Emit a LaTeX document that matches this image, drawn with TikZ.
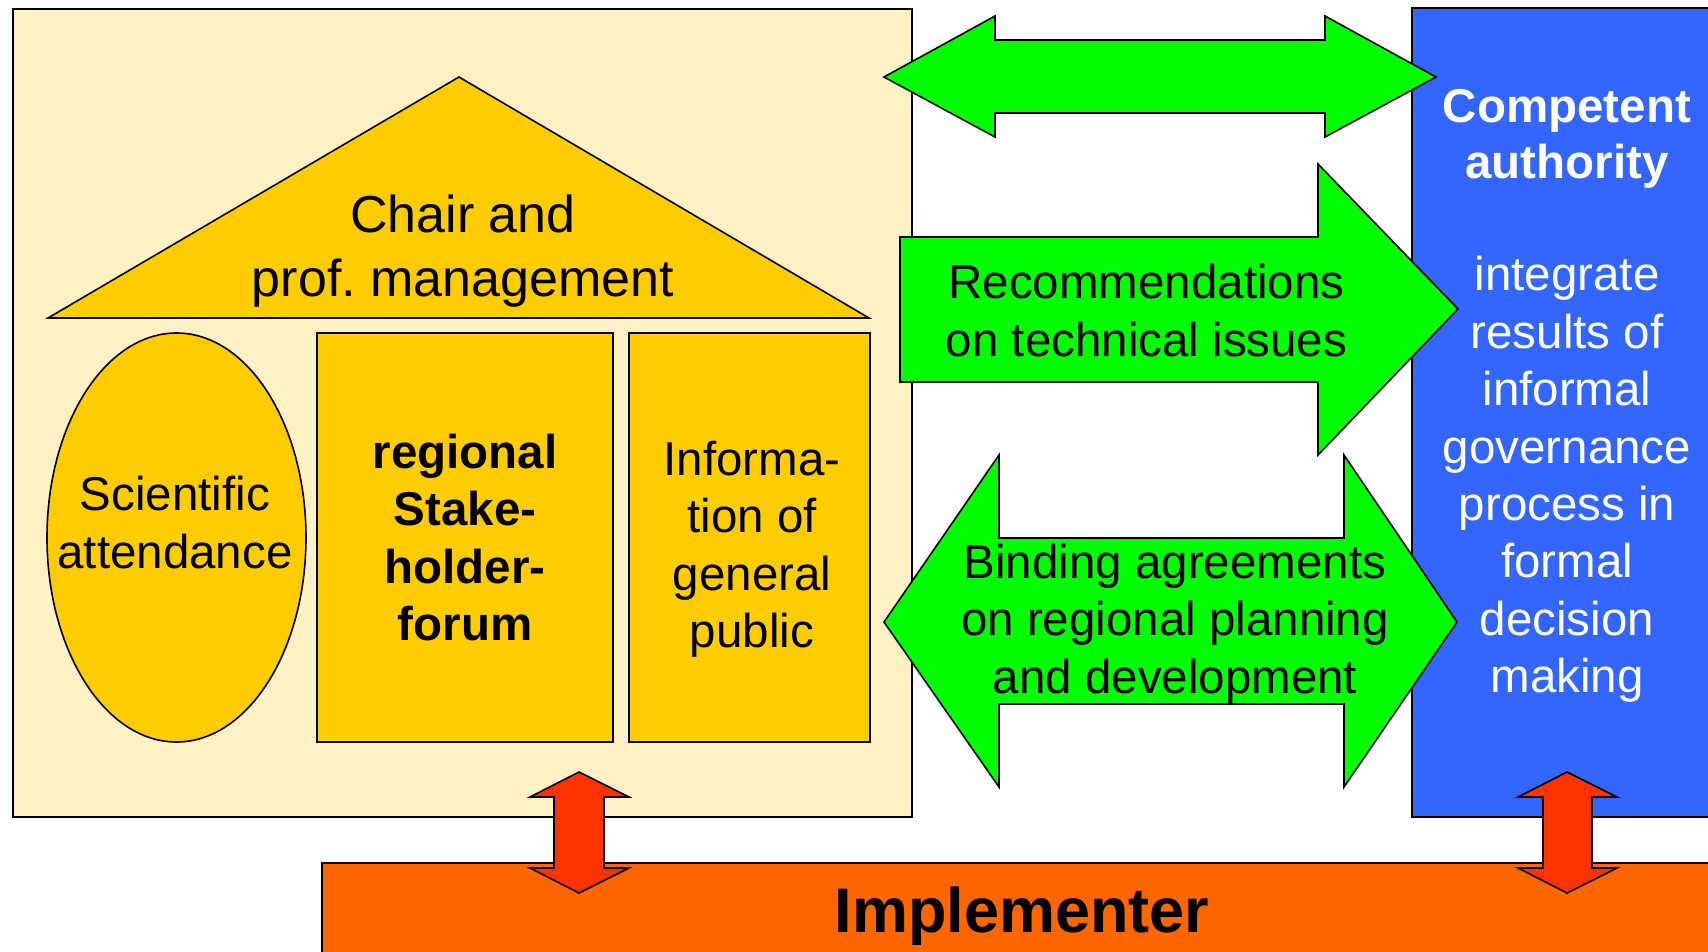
\documentclass[tikz,border=0pt]{standalone}
\usepackage{fontspec}
\setmainfont{Liberation Sans}
\frenchspacing
\definecolor{bgyellow}{RGB}{255,241,196}
\definecolor{houseyellow}{RGB}{255,204,0}
\definecolor{arrowgreen}{RGB}{0,255,0}
\definecolor{authblue}{RGB}{51,102,255}
\definecolor{implorange}{RGB}{255,102,0}
\definecolor{arrowred}{RGB}{255,51,0}
\begin{document}
\begin{tikzpicture}[x=1pt,y=-1pt,line join=miter,
  outl/.style={draw=black,line width=1.6pt},
  housepart/.style={outl,fill=houseyellow},
  greenarrow/.style={outl,fill=arrowgreen},
  redarrow/.style={outl,fill=arrowred},
  txt/.style={font=\fontsize{47.5}{57.5}\selectfont,align=center,inner sep=0pt},
  btxt/.style={font=\bfseries\fontsize{47.5}{57.5}\selectfont,align=center,inner sep=0pt}]
\useasboundingbox (0,0) rectangle (1708,951);
\clip (0,0) rectangle (1708,951);
\fill[white] (0,0) rectangle (1708,951);
% background box
\draw[outl,fill=bgyellow] (13,9) rectangle (912,817);
% house
\draw[housepart] (48,318) -- (459,77) -- (869,318) -- cycle;
\draw[housepart] (176.5,537.5) ellipse [x radius=129.5,y radius=204.5];
\draw[housepart] (317,333) rectangle (613,742);
\draw[housepart] (629,333) rectangle (870,742);
% authority and implementer
\draw[outl,fill=authblue] (1412,8) rectangle (1730,817);
\draw[outl,fill=implorange] (322,863) rectangle (1730,970);
% green arrows
\draw[greenarrow] (884,77) -- (995,16) -- (995,40) -- (1325,40) -- (1325,16) -- (1436,77)
  -- (1325,137) -- (1325,113) -- (995,113) -- (995,137) -- cycle;
\draw[greenarrow] (900,237) -- (1318,237) -- (1318,164) -- (1458,309) -- (1318,455)
  -- (1318,382) -- (900,382) -- cycle;
\draw[greenarrow] (884,622) -- (999,455) -- (999,538) -- (1344,538) -- (1344,455) -- (1457,622)
  -- (1344,787) -- (1344,704) -- (999,704) -- (999,787) -- cycle;
% red arrows
\draw[redarrow] (579,772) -- (629,797) -- (604,797) -- (604,868) -- (629,868) -- (579,893)
  -- (530,868) -- (554,868) -- (554,797) -- (530,797) -- cycle;
\draw[redarrow] (1567,772) -- (1617,797) -- (1592,797) -- (1592,868) -- (1617,868) -- (1567,893)
  -- (1518,868) -- (1543,868) -- (1543,797) -- (1518,797) -- cycle;
% texts
\node[txt,font=\fontsize{52}{64}\selectfont] (chair) at (463,251.2) {\strut Chair and\\\strut prof. management};
\node[txt,font=\fontsize{47.5}{58}\selectfont] (sci) at (175,527.4) {\strut Scientific\\\strut attendance};
\node[btxt] (forum) at (465,543) {\strut regional\\\strut Stake-\\\strut holder-\\\strut forum};
\node[txt] (info) at (752,549.8) {\strut Informa-\\\strut tion of\\\strut general\\\strut public};
\node[txt,font=\fontsize{47.5}{58}\selectfont] (rec) at (1146.5,315.4) {\strut Recommendations\\\strut on technical issues};
\node[txt] (bind) at (1175,624) {\strut Binding agreements\\\strut on regional planning\\\strut and development};
\node[btxt,text=white,font=\bfseries\fontsize{47.5}{56}\selectfont] (auth) at (1567,138.8) {\strut Competent\\\strut authority};
\node[txt,text=white,font=\fontsize{47.5}{57.4}\selectfont] (integ) at (1567,480.4) {\strut integrate\\\strut results of\\\strut informal\\\strut governance\\\strut process in\\\strut formal\\\strut decision\\\strut making};
\node[btxt,font=\bfseries\fontsize{63}{75.6}\selectfont] (impl) at (1022,916.9) {\strut Implementer};
\end{tikzpicture}
\end{document}
